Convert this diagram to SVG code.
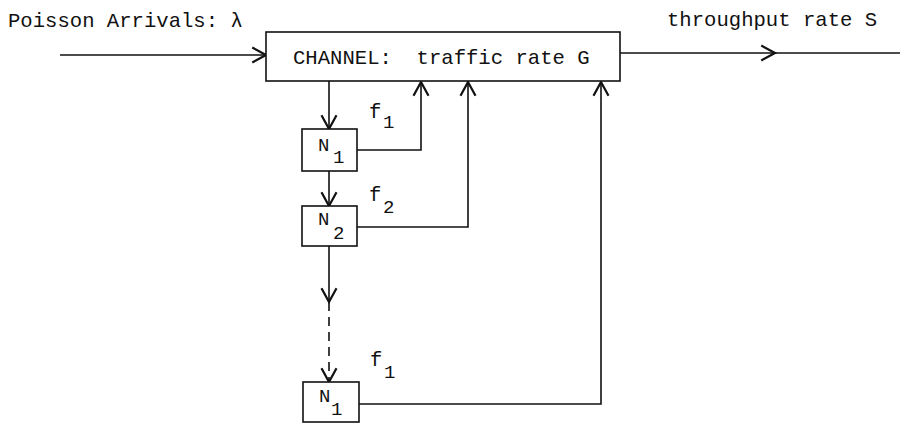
<svg xmlns="http://www.w3.org/2000/svg" width="901" height="424" viewBox="0 0 901 424">
<style>
text{font-family:"Liberation Mono","DejaVu Sans Mono",monospace;fill:#111;}
.t{font-size:20.6px;}
.s{font-size:19px;}
.box{fill:#fff;stroke:#111;stroke-width:1.6;}
.ln{fill:none;stroke:#111;stroke-width:1.6;}
.dash{stroke-dasharray:9 6;}
</style>
<defs>
<marker id="arr" markerUnits="userSpaceOnUse" markerWidth="20" markerHeight="20" viewBox="-12 -8 14 16" refX="0" refY="0" orient="auto">
<path d="M-11,-6 L0,0 L-11,6" fill="none" stroke="#111" stroke-width="1.8"/>
</marker>
</defs>
<g id="labels">
<text class="t" x="8" y="27">Poisson Arrivals: λ</text>
<text class="t" x="667" y="26">throughput rate S</text>
</g>
<g id="connectors">
<line class="ln" x1="60" y1="55" x2="266" y2="55" marker-end="url(#arr)"/>
<line class="ln" x1="620" y1="53" x2="775" y2="53" marker-end="url(#arr)"/>
<line class="ln" x1="775" y1="53" x2="900" y2="53"/>
<line class="ln" x1="329" y1="81" x2="329" y2="129" marker-end="url(#arr)"/>
<line class="ln" x1="329" y1="171" x2="329" y2="206" marker-end="url(#arr)"/>
<line class="ln" x1="329" y1="246" x2="329" y2="302" marker-end="url(#arr)"/>
<line class="ln dash" x1="329" y1="302" x2="329" y2="382" marker-end="url(#arr)"/>
<polyline class="ln" points="357,150 421,150 421,82" marker-end="url(#arr)"/>
<polyline class="ln" points="357,227 468,227 468,82" marker-end="url(#arr)"/>
<polyline class="ln" points="359,404 601,404 601,82" marker-end="url(#arr)"/>
<text class="t" x="369" y="118">f</text><text class="s" x="383" y="128">1</text>
<text class="t" x="369" y="201">f</text><text class="s" x="383" y="213">2</text>
<text class="t" x="370" y="366">f</text><text class="s" x="384" y="378">1</text>
</g>
<g id="channel">
<rect class="box" x="266" y="32" width="354" height="49"/>
<text class="t" x="293" y="64" xml:space="preserve">CHANNEL:  traffic rate G</text>
</g>
<g id="n1">
<rect class="box" x="302" y="129" width="55" height="42"/>
<text class="s" x="318" y="151">N</text><text class="s" x="333" y="163">1</text>
</g>
<g id="n2">
<rect class="box" x="302" y="206" width="55" height="40"/>
<text class="s" x="318" y="225">N</text><text class="s" x="333" y="239">2</text>
</g>
<g id="n3">
<rect class="box" x="303" y="382" width="56" height="40"/>
<text class="s" x="319" y="402">N</text><text class="s" x="331" y="415">1</text>
</g>
</svg>
